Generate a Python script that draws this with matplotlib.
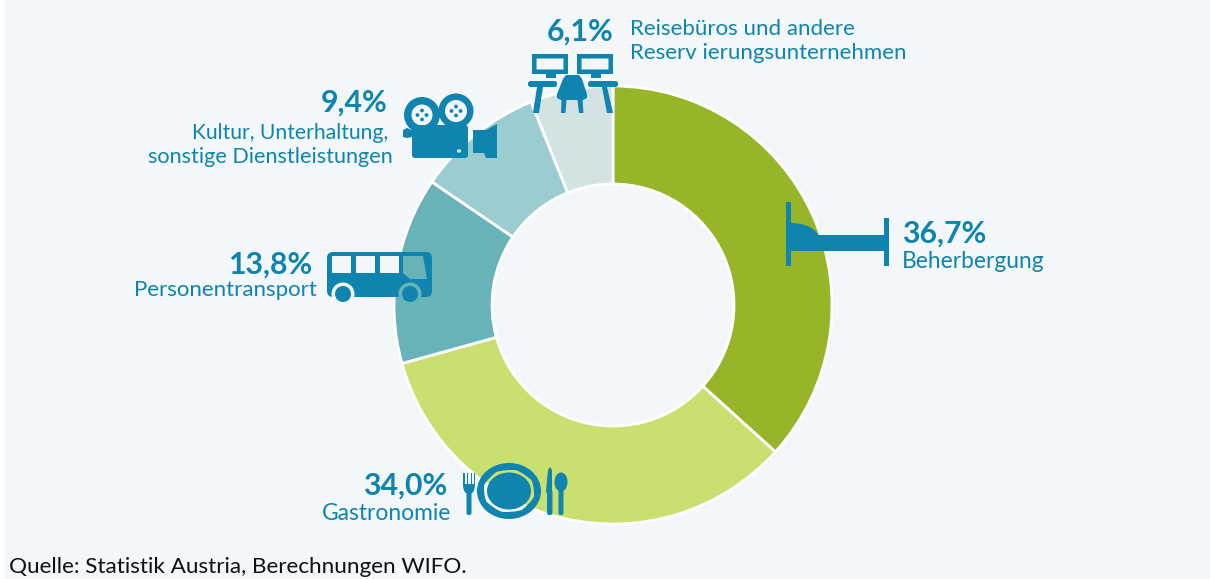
import matplotlib
matplotlib.use('Agg')
import matplotlib.pyplot as plt
from matplotlib.patches import Rectangle, Circle, Ellipse, Polygon, FancyBboxPatch, PathPatch
from matplotlib.path import Path
from matplotlib.transforms import Affine2D

labels = ['Beherbergung', 'Gastronomie', 'Personentransport',
          'Kultur, Unterhaltung,\nsonstige Dienstleistungen',
          'Reisebüros und andere\nReserv ierungsunternehmen']
values = [36.7, 34.0, 13.8, 9.4, 6.1]
value_labels = ['36,7%', '34,0%', '13,8%', '9,4%', '6,1%']
colors = ['#97B528', '#C9DF6F', '#68B3B8', '#9BCCD0', '#D3E2E3']
source = 'Quelle: Statistik Austria, Berechnungen WIFO.'

BLUE = '#0E84AF'
BG = '#F3F7F9'
FONT = 'Lato'

fig = plt.figure(figsize=(12.1, 5.79), dpi=100, facecolor='white')
ax = fig.add_axes([0, 0, 1, 1])

# y-Achse zeigt nach unten, deshalb startangle=-90 und counterclock=True
ax.pie(values, colors=colors, startangle=-90, counterclock=True,
       center=(613, 305), radius=219,
       wedgeprops=dict(width=98, edgecolor='white', linewidth=2), frame=True)
ax.set_xlim(0, 1210)
ax.set_ylim(579, 0)
ax.axis('off')
ax.add_patch(Rectangle((5, 0), 1205, 579, fc=BG, ec='none', zorder=0))


def rbox(x0, y0, x1, y1, r=1.5, color=BLUE):
    ax.add_patch(FancyBboxPatch((x0 + r, y0 + r), x1 - x0 - 2 * r, y1 - y0 - 2 * r,
                                boxstyle='round,pad=%s,rounding_size=%s' % (r, r),
                                fc=color, ec='none', zorder=5))


def poly(pts, color=BLUE):
    ax.add_patch(Polygon(pts, closed=True, fc=color, ec='none', zorder=5))


def ring(cx, cy, rx0, ry0, rx1, ry1):
    # Ring mit Loch, damit der Hintergrund durchscheint
    outer = Path.unit_circle().transformed(Affine2D().scale(rx0, ry0).translate(cx, cy))
    inner = Path.unit_circle().transformed(Affine2D().scale(rx1, ry1).translate(cx, cy))
    inner = Path(inner.vertices[::-1], inner.codes)
    ax.add_patch(PathPatch(Path.make_compound_path(outer, inner), fc=BLUE, ec='none', zorder=5))


def frame(x0, y0, x1, y1, t):
    pts = [(x0, y0), (x1, y0), (x1, y1), (x0, y1), (x0, y0),
           (x0 + t, y0 + t), (x0 + t, y1 - t), (x1 - t, y1 - t), (x1 - t, y0 + t), (x0 + t, y0 + t)]
    ax.add_patch(PathPatch(Path(pts), fc=BLUE, ec='none', zorder=5))


# Bett
ax.add_patch(Rectangle((786, 202), 4.6, 64, fc=BLUE, ec='none', zorder=5))
ax.add_patch(Rectangle((884, 218), 4.6, 48, fc=BLUE, ec='none', zorder=5))
ax.add_patch(Rectangle((790, 235), 95, 15.5, fc=BLUE, ec='none', zorder=5))
ax.add_patch(PathPatch(Path([(790, 223), (812, 223), (819, 236), (790, 236), (790, 223)],
                            [Path.MOVETO, Path.CURVE3, Path.CURVE3, Path.LINETO, Path.CLOSEPOLY]),
                       fc=BLUE, ec='none', zorder=5))

# Schreibtische
frame(532, 54, 568, 74, 4.5)
frame(577, 54, 613, 74, 4.5)
ax.add_patch(Rectangle((546, 74), 10, 4, fc=BLUE, ec='none', zorder=5))
ax.add_patch(Rectangle((591, 74), 10, 4, fc=BLUE, ec='none', zorder=5))
rbox(528, 81, 557, 87, 2.5)
rbox(588, 81, 618, 87, 2.5)
poly([(537, 87), (543, 87), (539, 113), (533, 113)])
poly([(602, 87), (607, 87), (613, 113), (607, 113)])
poly([(563, 79), (566, 75), (579, 75), (582, 79), (587, 94), (587, 98), (583, 100),
      (561, 100), (557, 98), (557, 94)])
poly([(561.5, 100), (566.5, 100), (565.5, 113), (561, 113)])
poly([(577.5, 100), (582.5, 100), (583.5, 113), (579, 113)])

# Filmkamera
for cx, cy, r0, r1 in [(422, 115, 18, 10.5), (456, 111, 17.5, 11)]:
    ax.add_patch(Circle((cx, cy), r0, fc=BLUE, ec='none', zorder=5))
    ax.add_patch(Circle((cx, cy), r1, fc=BG, ec='none', zorder=5))
    for dx, dy in [(-4.5, 0), (4.5, 0), (0, -4.5), (0, 4.5)]:
        ax.add_patch(Circle((cx + dx, cy + dy), 1.9, fc=BLUE, ec='none', zorder=6))
rbox(412, 125, 468, 158, 3)
poly([(403, 130), (407, 128), (412, 130), (412, 137), (407, 138), (403, 137)])
poly([(473, 130), (486, 130), (497, 124), (497, 158), (486, 158), (484, 153), (473, 153)])
ax.add_patch(Ellipse((459, 151), 4.5, 3.5, fc='#D3E2E3', ec='none', zorder=6))

# Bus
rbox(327, 252, 432, 297, 6)
for x0 in [332, 356, 380]:
    ax.add_patch(Rectangle((x0, 256), 19, 16.5, fc=BG, ec='none', zorder=6))
poly([(403, 256), (423, 256), (427, 279), (410, 279), (403, 273)], color='#68B3B8')
ax.add_patch(Circle((343, 294), 11.5, fc=BG, ec='none', zorder=6))
ax.add_patch(Circle((410, 294), 11.5, fc='#68B3B8', ec='none', zorder=6))
ax.add_patch(Circle((343, 294), 8, fc=BLUE, ec='none', zorder=7))
ax.add_patch(Circle((410, 294), 8, fc=BLUE, ec='none', zorder=7))

# Teller und Besteck
ring(509, 491, 32, 28, 25, 21)
ax.add_patch(Ellipse((509, 491), 44, 37, fc=BLUE, ec='none', zorder=5))
for x0 in [463, 466.5, 470.5, 473.5]:
    ax.add_patch(Rectangle((x0, 473), 1.6, 12, fc=BLUE, ec='none', zorder=5))
ax.add_patch(PathPatch(Path([(463, 484), (463, 494), (469, 494), (475, 494), (475, 484), (463, 484)],
                            [Path.MOVETO, Path.CURVE3, Path.CURVE3, Path.CURVE3, Path.CURVE3, Path.CLOSEPOLY]),
                       fc=BLUE, ec='none', zorder=5))
rbox(466.5, 488, 471.5, 515, 2)
poly([(547, 494), (546, 491), (548, 470), (550, 467), (552, 470), (552, 494)])
rbox(547, 490, 552.5, 515, 2)
ax.add_patch(Ellipse((561, 482), 13, 19, fc=BLUE, ec='none', zorder=5))
rbox(558.5, 488, 563.5, 515, 2)

# Beschriftung
for (x, y, ha), v in zip([(902, 234, 'left'), (447, 486, 'right'), (312, 265, 'right'),
                          (388, 103, 'right'), (614, 32, 'right')], value_labels):
    ax.text(x, y, v, color=BLUE, fontsize=21.8, fontweight='bold', family=FONT, ha=ha, va='center')

TXT = dict(color=BLUE, family=FONT, va='center')
ax.text(902, 261, labels[0], ha='left', fontsize=16.4, **TXT)
ax.text(451, 513, labels[1], ha='right', fontsize=16.4, **TXT)
ax.text(317, 290, labels[2], ha='right', fontsize=16, **TXT)
l1, l2 = labels[3].split('\n')
ax.text(388, 133, l1, ha='right', fontsize=15.2, **TXT)
ax.text(393, 157, l2, ha='right', fontsize=15.6, **TXT)
l1, l2 = labels[4].split('\n')
ax.text(630, 29, l1, ha='left', fontsize=16, **TXT)
ax.text(630, 53, l2, ha='left', fontsize=16, **TXT)
ax.text(9, 573, source, color='#111111', fontsize=16.2, family=FONT, ha='left', va='baseline')

fig.savefig('out.png', dpi=100, facecolor='white')
